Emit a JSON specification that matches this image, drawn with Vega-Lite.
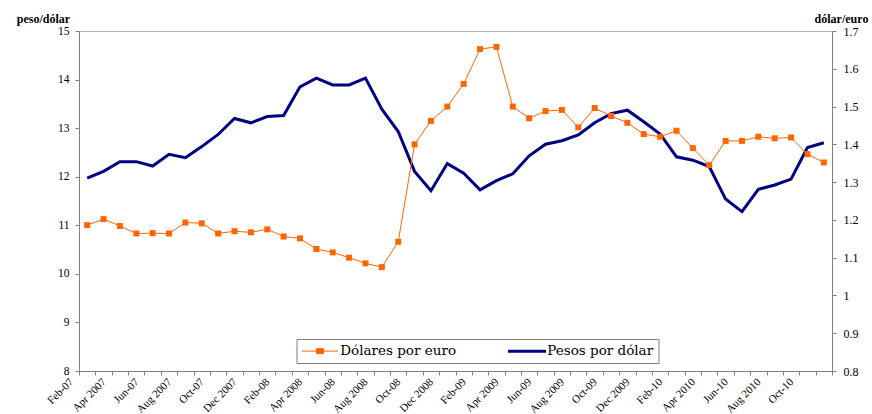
{
  "$schema": "https://vega.github.io/schema/vega-lite/v6.json",
  "autosize": {"type": "none"},
  "padding": {"left": 79, "top": 31, "right": 40, "bottom": 43},
  "width": 753,
  "height": 340,
  "background": "white",
  "config": {
    "view": {"stroke": "#b4b4b4", "strokeWidth": 1},
    "font": "Liberation Serif"
  },
  "data": {
    "values": [
      {"month": "Feb-07", "pesos": 11.97, "dolares": 1.186},
      {"month": "Mar-07", "pesos": 12.11, "dolares": 1.202},
      {"month": "Apr 2007", "pesos": 12.31, "dolares": 1.184},
      {"month": "May-07", "pesos": 12.31, "dolares": 1.164},
      {"month": "Jun-07", "pesos": 12.22, "dolares": 1.165},
      {"month": "Jul-07", "pesos": 12.46, "dolares": 1.164},
      {"month": "Aug 2007", "pesos": 12.39, "dolares": 1.193},
      {"month": "Sep-07", "pesos": 12.62, "dolares": 1.191},
      {"month": "Oct-07", "pesos": 12.87, "dolares": 1.164},
      {"month": "Nov-07", "pesos": 13.20, "dolares": 1.170},
      {"month": "Dec 2007", "pesos": 13.11, "dolares": 1.167},
      {"month": "Jan-08", "pesos": 13.24, "dolares": 1.175},
      {"month": "Feb-08", "pesos": 13.26, "dolares": 1.156},
      {"month": "Mar-08", "pesos": 13.85, "dolares": 1.151},
      {"month": "Apr 2008", "pesos": 14.03, "dolares": 1.123},
      {"month": "May-08", "pesos": 13.89, "dolares": 1.114},
      {"month": "Jun-08", "pesos": 13.89, "dolares": 1.100},
      {"month": "Jul-08", "pesos": 14.03, "dolares": 1.085},
      {"month": "Aug 2008", "pesos": 13.39, "dolares": 1.075},
      {"month": "Sep-08", "pesos": 12.93, "dolares": 1.142},
      {"month": "Oct-08", "pesos": 12.11, "dolares": 1.400},
      {"month": "Nov-08", "pesos": 11.71, "dolares": 1.462},
      {"month": "Dec 2008", "pesos": 12.27, "dolares": 1.500},
      {"month": "Jan-09", "pesos": 12.07, "dolares": 1.560},
      {"month": "Feb-09", "pesos": 11.73, "dolares": 1.652},
      {"month": "Mar-09", "pesos": 11.92, "dolares": 1.658},
      {"month": "Apr 2009", "pesos": 12.06, "dolares": 1.500},
      {"month": "May-09", "pesos": 12.43, "dolares": 1.469},
      {"month": "Jun-09", "pesos": 12.67, "dolares": 1.488},
      {"month": "Jul-09", "pesos": 12.74, "dolares": 1.491},
      {"month": "Aug 2009", "pesos": 12.86, "dolares": 1.445},
      {"month": "Sep-09", "pesos": 13.11, "dolares": 1.496},
      {"month": "Oct-09", "pesos": 13.30, "dolares": 1.475},
      {"month": "Nov-09", "pesos": 13.37, "dolares": 1.457},
      {"month": "Dec 2009", "pesos": 13.13, "dolares": 1.427},
      {"month": "Jan-10", "pesos": 12.88, "dolares": 1.420},
      {"month": "Feb-10", "pesos": 12.41, "dolares": 1.436},
      {"month": "Mar-10", "pesos": 12.34, "dolares": 1.390},
      {"month": "Apr 2010", "pesos": 12.21, "dolares": 1.345},
      {"month": "May-10", "pesos": 11.54, "dolares": 1.409},
      {"month": "Jun-10", "pesos": 11.28, "dolares": 1.409},
      {"month": "Jul-10", "pesos": 11.74, "dolares": 1.420},
      {"month": "Aug 2010", "pesos": 11.83, "dolares": 1.416},
      {"month": "Sep-10", "pesos": 11.95, "dolares": 1.418},
      {"month": "Oct-10", "pesos": 12.60, "dolares": 1.374},
      {"month": "Nov-10", "pesos": 12.70, "dolares": 1.352}
    ]
  },
  "encoding": {
    "x": {
      "field": "month",
      "type": "ordinal",
      "sort": null,
      "scale": {"type": "band", "paddingInner": 0, "paddingOuter": 0},
      "axis": {
        "title": null,
        "tickBand": "extent",
        "domainColor": "#808080",
        "tickColor": "#808080",
        "tickSize": 4,
        "labelAngle": -45,
        "labelAlign": "right",
        "labelBaseline": "middle",
        "labelOffset": -16,
        "labelPadding": 5,
        "labelFont": "Liberation Serif",
        "labelFontSize": 11,
        "labelColor": "#000000",
        "labelOverlap": false,
        "labelExpr": "test(regexp('^(Jan|Mar|May|Jul|Sep|Nov)'), datum.value) ? '' : datum.value"
      }
    }
  },
  "layer": [
    {
      "mark": {"type": "line", "strokeWidth": 3, "strokeJoin": "miter", "interpolate": "linear"},
      "encoding": {
        "y": {
          "field": "pesos",
          "type": "quantitative",
          "scale": {"domain": [8, 15], "nice": false, "zero": false},
          "axis": {
            "orient": "left",
            "values": [8, 9, 10, 11, 12, 13, 14, 15],
            "grid": false,
            "title": "peso/dólar",
            "titleAngle": 0,
            "titleX": -36,
            "titleY": -13,
            "titleAlign": "center",
            "titleBaseline": "middle",
            "titleFont": "Liberation Serif",
            "titleFontSize": 12,
            "titleFontWeight": "bold",
            "titleColor": "#000000",
            "domainColor": "#808080",
            "tickColor": "#808080",
            "tickSize": 4,
            "labelPadding": 6,
            "labelFont": "Liberation Serif",
            "labelFontSize": 11.5,
            "labelColor": "#000000"
          }
        },
        "color": {
          "datum": "Pesos por dólar",
          "type": "nominal",
          "scale": {"domain": ["Dólares por euro", "Pesos por dólar"], "range": ["#FF6600", "#000080"]},
          "legend": {
            "title": null,
            "orient": "none",
            "direction": "horizontal",
            "legendX": 217.5,
            "legendY": 308,
            "fillColor": "white",
            "strokeColor": "#808080",
            "padding": 5,
            "symbolSize": 100,
            "symbolOffset": 11.75,
            "labelFont": "DejaVu Serif",
            "labelFontSize": 13.5,
            "labelColor": "#000000",
            "labelOffset": 13.5,
            "columnPadding": 45,
            "encode": {
              "symbols": {
                "update": {
                  "shape": {"signal": "(datum.value === 'Dólares por euro' ? 'M-3.6,0H3.6M-0.7,-0.5H0.7V0.5H-0.7Z' : 'M-3.8,0H3.8')"},
                  "fill": {"signal": "(datum.value === 'Dólares por euro' ? '#FF6600' : 'transparent')"},
                  "stroke": {"signal": "(datum.value === 'Dólares por euro' ? '#FF6600' : '#000080')"},
                  "strokeWidth": {"signal": "(datum.value === 'Dólares por euro' ? 1 : 3)"},
                  "opacity": {"value": 1}
                }
              }
            }
          }
        }
      }
    },
    {
      "mark": {"type": "line", "strokeWidth": 1, "point": {"shape": "square", "size": 36, "filled": true, "opacity": 1}},
      "encoding": {
        "y": {
          "field": "dolares",
          "type": "quantitative",
          "scale": {"domain": [0.8, 1.7], "nice": false, "zero": false},
          "axis": {
            "orient": "right",
            "values": [0.8, 0.9, 1.0, 1.1, 1.2, 1.3, 1.4, 1.5, 1.6, 1.7],
            "format": ".1~f",
            "grid": false,
            "title": "dólar/euro",
            "titleAngle": 0,
            "titleX": 9,
            "titleY": -13,
            "titleAlign": "center",
            "titleBaseline": "middle",
            "titleFont": "Liberation Serif",
            "titleFontSize": 12,
            "titleFontWeight": "bold",
            "titleColor": "#000000",
            "domainColor": "#808080",
            "tickColor": "#808080",
            "tickSize": 4,
            "labelPadding": 7,
            "labelFont": "Liberation Serif",
            "labelFontSize": 12,
            "labelColor": "#000000"
          }
        },
        "color": {"datum": "Dólares por euro", "type": "nominal"}
      }
    }
  ],
  "resolve": {"scale": {"y": "independent"}}
}
